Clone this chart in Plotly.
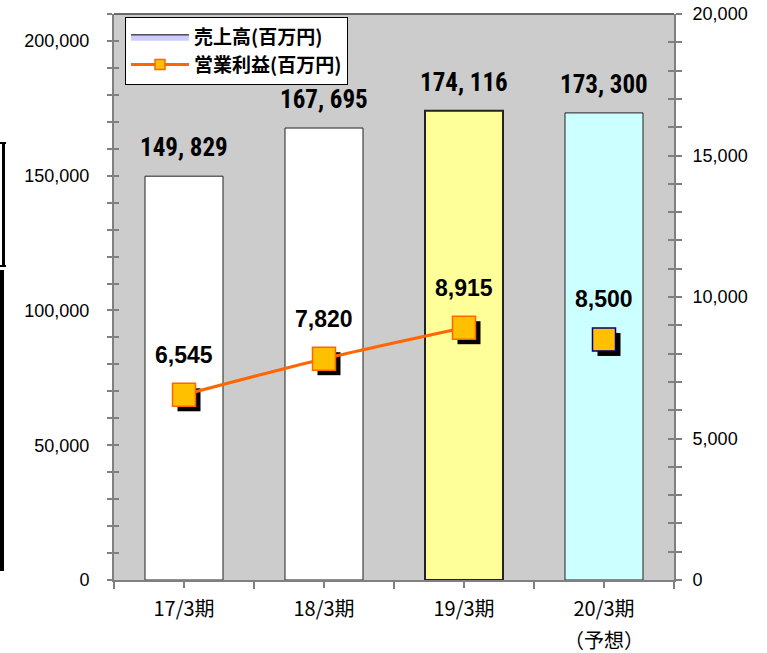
import plotly.graph_objects as go

categories = ["17/3期", "18/3期", "19/3期", "20/3期"]
tick_notes = ["", "", "", "（予想）"]
sales = [149829, 167695, 174116, 173300]
profit_actual = [6545, 7820, 8915]
profit_forecast = [8500]
bar_colors = ["#FFFFFF", "#FFFFFF", "#FFFF99", "#CCFFFF"]
sales_name = "売上高(百万円)"
profit_name = "営業利益(百万円)"

W, H = 767, 653
ML, MR, MT, MB = 114, 93, 14, 73
PW, PH = W - ML - MR, H - MT - MB
Y1_MAX, Y2_MAX = 210000, 20000
SH = 5  # shadow offset px

def px_x(p):
    return (p - ML) / PW

def px_y(p):
    return (H - MB - p) / PH

ORANGE = "#FF6600"
GOLD = "#FFC000"
GRID = "#808080"
TICKFONT = dict(family="Liberation Sans, Arial, sans-serif", size=18, color="black")
XFONT = dict(family="Noto Sans CJK JP, sans-serif", size=20, color="black")

fig = go.Figure()

fig.add_trace(go.Bar(
    x=categories, y=sales, width=0.557,
    marker=dict(color=bar_colors, line=dict(color="#222222", width=[1, 1, 2, 1])),
    showlegend=False, hoverinfo="skip", xaxis="x", yaxis="y",
))

fc_cat = categories[len(profit_actual):]
act_cat = categories[:len(profit_actual)]

fig.add_trace(go.Scatter(
    x=act_cat + fc_cat, y=profit_actual + profit_forecast, mode="markers",
    marker=dict(symbol="square", size=23, color="black", line=dict(width=0)),
    showlegend=False, hoverinfo="skip", xaxis="x2", yaxis="y2",
))

fig.add_trace(go.Scatter(
    x=act_cat, y=profit_actual, mode="lines+markers",
    line=dict(color=ORANGE, width=3, shape="spline", smoothing=0.8),
    marker=dict(symbol="square", size=23, color=GOLD, line=dict(color=ORANGE, width=1.5)),
    showlegend=False, hoverinfo="skip", xaxis="x3", yaxis="y3",
))
fig.add_trace(go.Scatter(
    x=fc_cat, y=profit_forecast, mode="markers",
    marker=dict(symbol="square", size=23, color=GOLD, line=dict(color="#000080", width=1.5)),
    showlegend=False, hoverinfo="skip", xaxis="x3", yaxis="y3",
))

# legend-only entries
fig.add_trace(go.Scatter(
    x=[None], y=[None], name=sales_name, mode="lines", fill="toself",
    fillcolor="#CCCCFF", line=dict(color="black", width=1),
    xaxis="x4", yaxis="y4", hoverinfo="skip",
))
fig.add_trace(go.Scatter(
    x=[None], y=[None], name=profit_name, mode="lines+markers",
    line=dict(color=ORANGE, width=3),
    marker=dict(symbol="square", size=10, color=GOLD, line=dict(color=ORANGE, width=1.5)),
    xaxis="x4", yaxis="y5", hoverinfo="skip",
))

dx = SH / (PW / len(categories))
dy2 = SH / PH * Y2_MAX

fig.update_layout(
    width=W, height=H,
    margin=dict(l=ML, r=MR, t=MT, b=MB, pad=0, autoexpand=False),
    paper_bgcolor="white", plot_bgcolor="#CCCCCC",
    barmode="overlay",
    xaxis=dict(type="category", categoryorder="array", categoryarray=categories,
               tickson="boundaries",
               range=[-0.5, len(categories) - 0.5], automargin=False,
               ticks="outside", ticklen=7, tickcolor=GRID, tickwidth=1.5,
               showline=True, linecolor=GRID, linewidth=2, showgrid=False, zeroline=False,
               ticklabelstandoff=10, tickfont=XFONT),
    yaxis=dict(range=[0, Y1_MAX], tickvals=list(range(0, Y1_MAX + 1, 10000)),
               ticktext=[f"{v:,}" if v % 50000 == 0 else "" for v in range(0, Y1_MAX + 1, 10000)],
               ticks="outside", ticklen=5, tickcolor=GRID, tickwidth=1.5, automargin=False,
               showline=True, linecolor=GRID, linewidth=2, showgrid=False, zeroline=False,
               tickfont=TICKFONT, ticklabelstandoff=14),
    xaxis2=dict(type="category", categoryorder="array", categoryarray=categories, automargin=False,
                range=[-0.5 - dx, len(categories) - 0.5 - dx], overlaying="x", visible=False),
    yaxis2=dict(range=[dy2, Y2_MAX + dy2], overlaying="y", visible=False, automargin=False),
    xaxis3=dict(type="category", categoryorder="array", categoryarray=categories, automargin=False,
                range=[-0.5, len(categories) - 0.5], overlaying="x", visible=False),
    yaxis3=dict(range=[0, Y2_MAX], overlaying="y", side="right", anchor="x3", automargin=False,
                tickvals=list(range(0, Y2_MAX + 1, 1000)),
                ticktext=[f"{v:,}" if v % 5000 == 0 else "" for v in range(0, Y2_MAX + 1, 1000)],
                ticks="outside", ticklen=6, tickcolor=GRID, tickwidth=1.5,
                showline=True, linecolor=GRID, linewidth=2, showgrid=False, zeroline=False,
                tickfont=TICKFONT, ticklabelstandoff=7),
    xaxis4=dict(type="category", categoryorder="array", categoryarray=categories, automargin=False,
                range=[-0.5, len(categories) - 0.5], overlaying="x", anchor="y4",
                ticks="outside", ticklen=7, tickcolor=GRID, tickwidth=1.5,
                showticklabels=False, showline=False, showgrid=False, zeroline=False),
    yaxis4=dict(range=[0, Y1_MAX], overlaying="y", side="left", anchor="x4", automargin=False,
                dtick=10000, ticks="inside", ticklen=5, tickcolor=GRID, tickwidth=1.5,
                showticklabels=False, showline=False, showgrid=False, zeroline=False),
    yaxis5=dict(range=[0, Y2_MAX], overlaying="y", side="right", anchor="x4", automargin=False,
                dtick=1000, ticks="inside", ticklen=6, tickcolor=GRID, tickwidth=1.5,
                showticklabels=False, showline=False, showgrid=False, zeroline=False),
    legend=dict(x=px_x(125), y=px_y(17), xanchor="left", yanchor="top",
                bgcolor="white", bordercolor="black", borderwidth=1,
                itemwidth=58,
                font=dict(family="Noto Sans CJK JP, sans-serif", size=19, color="black", weight="bold"),
                traceorder="normal", tracegroupgap=0),
    showlegend=True,
)

annotations = []
for c, note in zip(categories, tick_notes):
    if note:
        annotations.append(dict(
            x=c, y=0, xref="x", yref="paper", text=note, showarrow=False,
            yanchor="top", yshift=-44, font=XFONT, borderpad=0,
        ))
for c, v in zip(categories, sales):
    annotations.append(dict(
        x=c, y=v, xref="x", yref="y", text=f"{v:,}".replace(",", ", "),
        showarrow=False, yanchor="bottom", yshift=12,
        font=dict(family="Roboto Condensed, Liberation Sans Narrow, Liberation Sans, Arial, sans-serif",
                  size=25, color="black", weight="bold"),
    ))
for c, v in zip(act_cat + fc_cat, profit_actual + profit_forecast):
    annotations.append(dict(
        x=c, y=v, xref="x3", yref="y3", text=f"{v:,}",
        showarrow=False, yanchor="bottom", yshift=25,
        font=dict(family="Liberation Sans, Arial, sans-serif", size=23, color="black", weight="bold"),
    ))
fig.update_layout(annotations=annotations)

shapes = [
    dict(type="line", xref="paper", yref="paper", x0=0, x1=1, y0=1, y1=1,
         line=dict(color="#404040", width=1.5)),
    dict(type="line", xref="paper", yref="paper", x0=px_x(3.5), x1=px_x(3.5), y0=px_y(142), y1=px_y(267),
         line=dict(color="black", width=3)),
    dict(type="line", xref="paper", yref="paper", x0=px_x(0), x1=px_x(6), y0=px_y(143), y1=px_y(143),
         line=dict(color="black", width=2)),
    dict(type="line", xref="paper", yref="paper", x0=px_x(0), x1=px_x(6), y0=px_y(266), y1=px_y(266),
         line=dict(color="black", width=2)),
    dict(type="line", xref="paper", yref="paper", x0=px_x(2), x1=px_x(2), y0=px_y(270), y1=px_y(571),
         line=dict(color="black", width=4)),
]
fig.update_layout(shapes=shapes)

fig.write_html("out.html")
